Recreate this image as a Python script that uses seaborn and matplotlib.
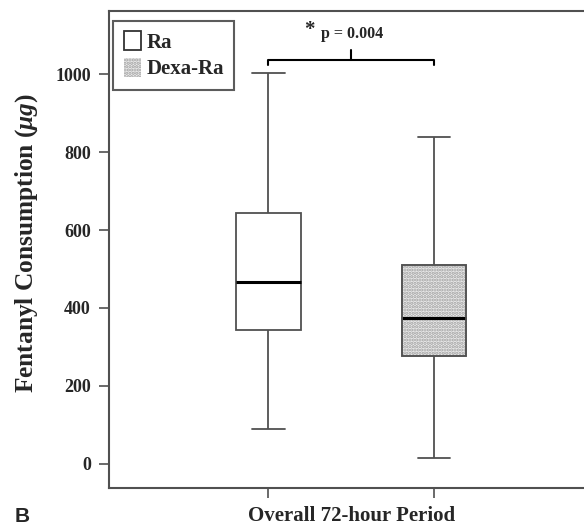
import numpy as np
import pandas as pd
import matplotlib
matplotlib.use('Agg')
import matplotlib.pyplot as plt
from matplotlib.patches import Patch, PathPatch
import seaborn as sns

# five-number summaries (min, Q1, median, Q3, max)
ra_values = [90, 344, 466, 644, 1004]
dexa_values = [14, 278, 374, 509, 839]
groups = ["Ra", "Dexa-Ra"]
period = "Overall 72-hour Period"
yticks = [0, 200, 400, 600, 800, 1000]
p_text = "p = 0.004"

df = pd.DataFrame({
    "period": [period] * 10,
    "group": ["Ra"] * 5 + ["Dexa-Ra"] * 5,
    "value": ra_values + dexa_values,
})

sns.set_theme(style="white")
plt.rcParams.update({
    'font.family': ['Liberation Serif', 'DejaVu Serif'],
    'font.weight': 'bold',
    'mathtext.fontset': 'custom',
    'mathtext.rm': 'Liberation Serif:bold',
    'mathtext.it': 'Liberation Serif:italic:bold',
    'hatch.linewidth': 1.6,
})

line_col = '#505050'
fig = plt.figure(figsize=(5.84, 5.28), dpi=100)
ax = fig.add_axes([109 / 584, 40 / 528, 1 - 109 / 584, 477 / 528])

sns.boxplot(data=df, x="period", y="value", hue="group", hue_order=groups,
            palette=['white', '#ececec'], width=0.697, gap=0.61, whis=(0, 100),
            linecolor=line_col, linewidth=1.3, dodge=True, legend=False,
            medianprops=dict(color='black', linewidth=2.2), ax=ax)

# stipple the second box and redraw its dark outline
boxes = [p for p in ax.patches]
centers = []
for p in boxes:
    ext = p.get_path().get_extents(p.get_transform() - ax.transData)
    centers.append((ext.x0 + ext.x1) / 2)
dexa_box = boxes[1]
dexa_box.set_hatch('.....')
dexa_box.set_edgecolor('#a0a0a0')
outline = PathPatch(dexa_box.get_path(), transform=dexa_box.get_transform(),
                    fill=False, edgecolor=line_col, linewidth=1.3, zorder=dexa_box.get_zorder() + 0.1)
ax.add_patch(outline)

ax.set_xlim(-0.51, 0.49)
ax.set_ylim(-62, 1162)
ax.set_yticks(yticks)
ax.set_yticklabels([str(t) for t in yticks], fontsize=13, fontweight='bold')
ax.set_xticks([0])
ax.set_xticklabels([period], fontsize=15, fontweight='bold')
ax.tick_params(axis='x', which='major', length=0, pad=13)
ax.set_xticks(centers, minor=True)
ax.tick_params(axis='x', which='minor', length=7, width=1.2, color=line_col, direction='out', bottom=True)
ax.tick_params(axis='y', length=7, width=1.2, color=line_col, direction='out', left=True, pad=6)
ax.set_xlabel('')
ax.set_ylabel(r'Fentanyl Consumption ($\mu g$)', fontsize=18.3, fontweight='bold')
ax.yaxis.set_label_coords(-0.145, 0.514)

for side in ['left', 'bottom', 'top']:
    ax.spines[side].set_color(line_col)
    ax.spines[side].set_linewidth(1.5)
ax.spines['right'].set_visible(False)

# significance bracket
x0, x1 = centers
xm = (x0 + x1) / 2
ax.plot([x0, x0, x1, x1], [1024, 1037, 1037, 1024], color='black', lw=1.5, clip_on=False)
ax.plot([xm, xm], [1037, 1063], color='black', lw=1.5)
ax.text(xm + 0.002, 1103, p_text, ha='center', va='center', fontsize=11.5, fontweight='bold')
ax.text(xm - 0.078, 1112, '*', ha='right', va='center', fontsize=15, fontweight='bold')

handles = [Patch(facecolor='white', edgecolor='#333333', linewidth=1.3),
           Patch(facecolor='#ececec', edgecolor='#a0a0a0', hatch='.....', linewidth=0)]
leg = ax.legend(handles, groups, loc='upper left', bbox_to_anchor=(0.0, 0.988),
                prop={'family': 'Liberation Serif', 'weight': 'bold', 'size': 15},
                frameon=True, fancybox=False, handlelength=0.85, handleheight=1.0,
                handletextpad=0.25, borderpad=0.5, labelspacing=0.25, borderaxespad=0.2)
leg.get_frame().set_edgecolor('#333333')
leg.get_frame().set_linewidth(1.5)

fig.text(15 / 584, 12 / 528, 'B', fontsize=15, fontfamily='Liberation Sans',
         fontweight='bold', ha='left', va='center')

fig.savefig('out.png', dpi=100)
